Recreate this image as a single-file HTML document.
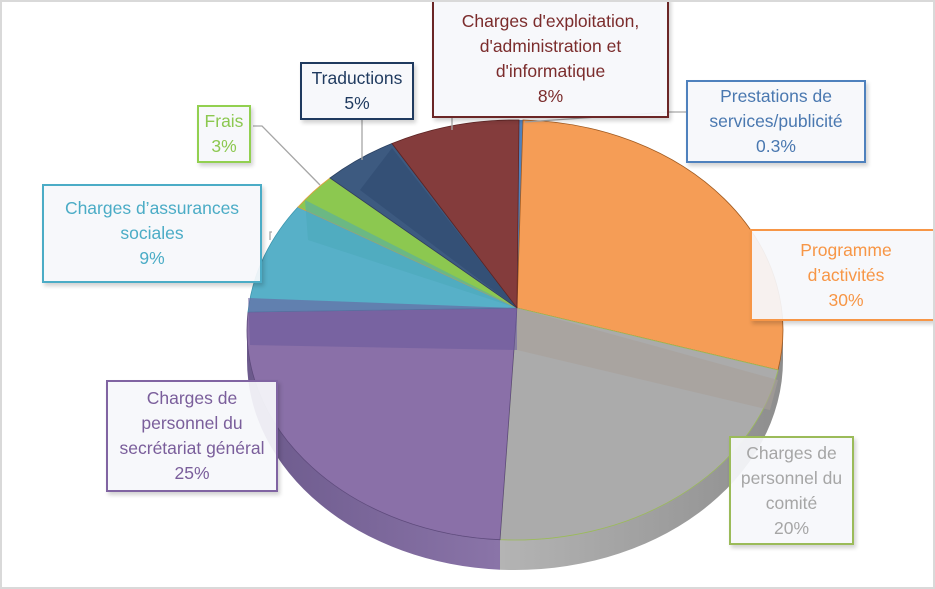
<!DOCTYPE html>
<html><head><meta charset="utf-8"><style>
html,body{margin:0;padding:0;background:#fff}
.wrap{position:relative;width:935px;height:589px;overflow:hidden;background:#fff}
.frame{position:absolute;left:0;top:0;width:931px;height:585px;border:2px solid #d9d9d9}
.lb{position:absolute;box-sizing:border-box;background:rgba(246,248,251,0.93);font-family:"Liberation Sans",sans-serif;font-size:17.5px;line-height:25px;text-align:center;border:2px solid;box-shadow:2px 3px 4px rgba(0,0,0,0.18);display:flex;flex-direction:column;justify-content:center;white-space:nowrap}
svg{position:absolute;left:0;top:0}
</style></head><body><div class="wrap">
<svg width="935" height="589" viewBox="0 0 935 589">
<defs>
<linearGradient id="sp" x1="0" x2="1"><stop offset="0" stop-color="#6c5a8c"/><stop offset="1" stop-color="#8a74a8"/></linearGradient>
<linearGradient id="sg" x1="0" x2="1"><stop offset="0" stop-color="#b4b4b4"/><stop offset="1" stop-color="#8e8e8e"/></linearGradient>
</defs>
<path d="M247 330 L247 360 A268 210 0 0 0 500 569.7 L500 539.7 A268 210 0 0 1 247 330 Z" fill="url(#sp)"/>
<path d="M500 539.7 L500 569.7 A268 210 0 0 0 783 360 L783 330 A268 210 0 0 1 500 539.7 Z" fill="url(#sg)"/>
<g stroke-width="0.8">
<path d="M517 308 L519 120 A268 210 0 0 1 523 120 Z" fill="#4f81bd"/>
<path d="M517 308 L523 120 A268 210 0 0 1 778 370 Z" fill="#f59d56" stroke="#a05a20"/>
<path d="M517 308 L778 370 A268 210 0 0 1 500 539.7 Z" fill="#ababab" stroke="#9bbb59"/>
<path d="M517 308 L500 539.7 A268 210 0 0 1 248 312 Z" fill="#8a70a8" stroke="#5e4a7c"/>
<path d="M517 308 L248 312 A268 210 0 0 1 298 207 Z" fill="#57b0c8" stroke="#3d95ad"/>
<path d="M517 308 L298 207 A268 210 0 0 1 330 178 Z" fill="#8cc850" stroke="#e0a040"/>
<path d="M517 308 L330 178 A268 210 0 0 1 392 143.5 Z" fill="#3d5a80" stroke="#2a4060"/>
<path d="M517 308 L392 143.5 A268 210 0 0 1 519 120 Z" fill="#843c3c" stroke="#5e2424"/>
</g>
<path d="M517 308 L248 298 L250 345 L517 350 Z" fill="#6a5a9a" opacity="0.55"/>
<path d="M517 308 L778 380 L770 410 L517 350 Z" fill="#a8a09a" opacity="0.6"/>
<path d="M517 308 L305 200 L308 240 Z" fill="#49a8b8" opacity="0.5"/>
<path d="M517 308 L392 148 L360 190 Z" fill="#2e4a70" opacity="0.6"/>
<g stroke="#a6a6a6" stroke-width="1.3" fill="none">
<path d="M253 126 L262 126 L320 185"/>
<path d="M362 120 L362 160"/>
<path d="M452 118 L452 130"/>
<path d="M686 112 L670 112 L525 122"/>
<path d="M272 232 L270 232 L270 240"/>
</g>
</svg>
<div class="lb" style="left:432px;top:-4px;width:237px;height:122px;border-color:#6b2626;color:#7b2c2c;padding-top:4px">Charges d'exploitation,<br>d'administration et<br>d'informatique<br>8%</div>
<div class="lb" style="left:686px;top:80px;width:180px;height:83px;border-color:#4f81bd;color:#4a78b0">Prestations de<br>services/publicité<br>0.3%</div>
<div class="lb" style="left:300px;top:62px;width:114px;height:58px;border-color:#1f3a5f;color:#1f3a5f">Traductions<br>5%</div>
<div class="lb" style="left:197px;top:105px;width:54px;height:58px;border-color:#92d050;color:#8cc850">Frais<br>3%</div>
<div class="lb" style="left:42px;top:184px;width:220px;height:99px;border-color:#4bacc6;color:#4bacc6">Charges d’assurances<br>sociales<br>9%</div>
<div class="lb" style="left:750px;top:229px;width:190px;height:92px;border-color:#f79646;color:#f79646;border-right:none">Programme<br>d’activités<br>30%</div>
<div class="lb" style="left:106px;top:380px;width:172px;height:112px;border-color:#8064a2;color:#7a5e9b">Charges de<br>personnel du<br>secrétariat général<br>25%</div>
<div class="lb" style="left:729px;top:436px;width:125px;height:109px;border-color:#9bbb59;color:#a6a6a6">Charges de<br>personnel du<br>comité<br>20%</div>
<div class="frame"></div>
</div></body></html>
